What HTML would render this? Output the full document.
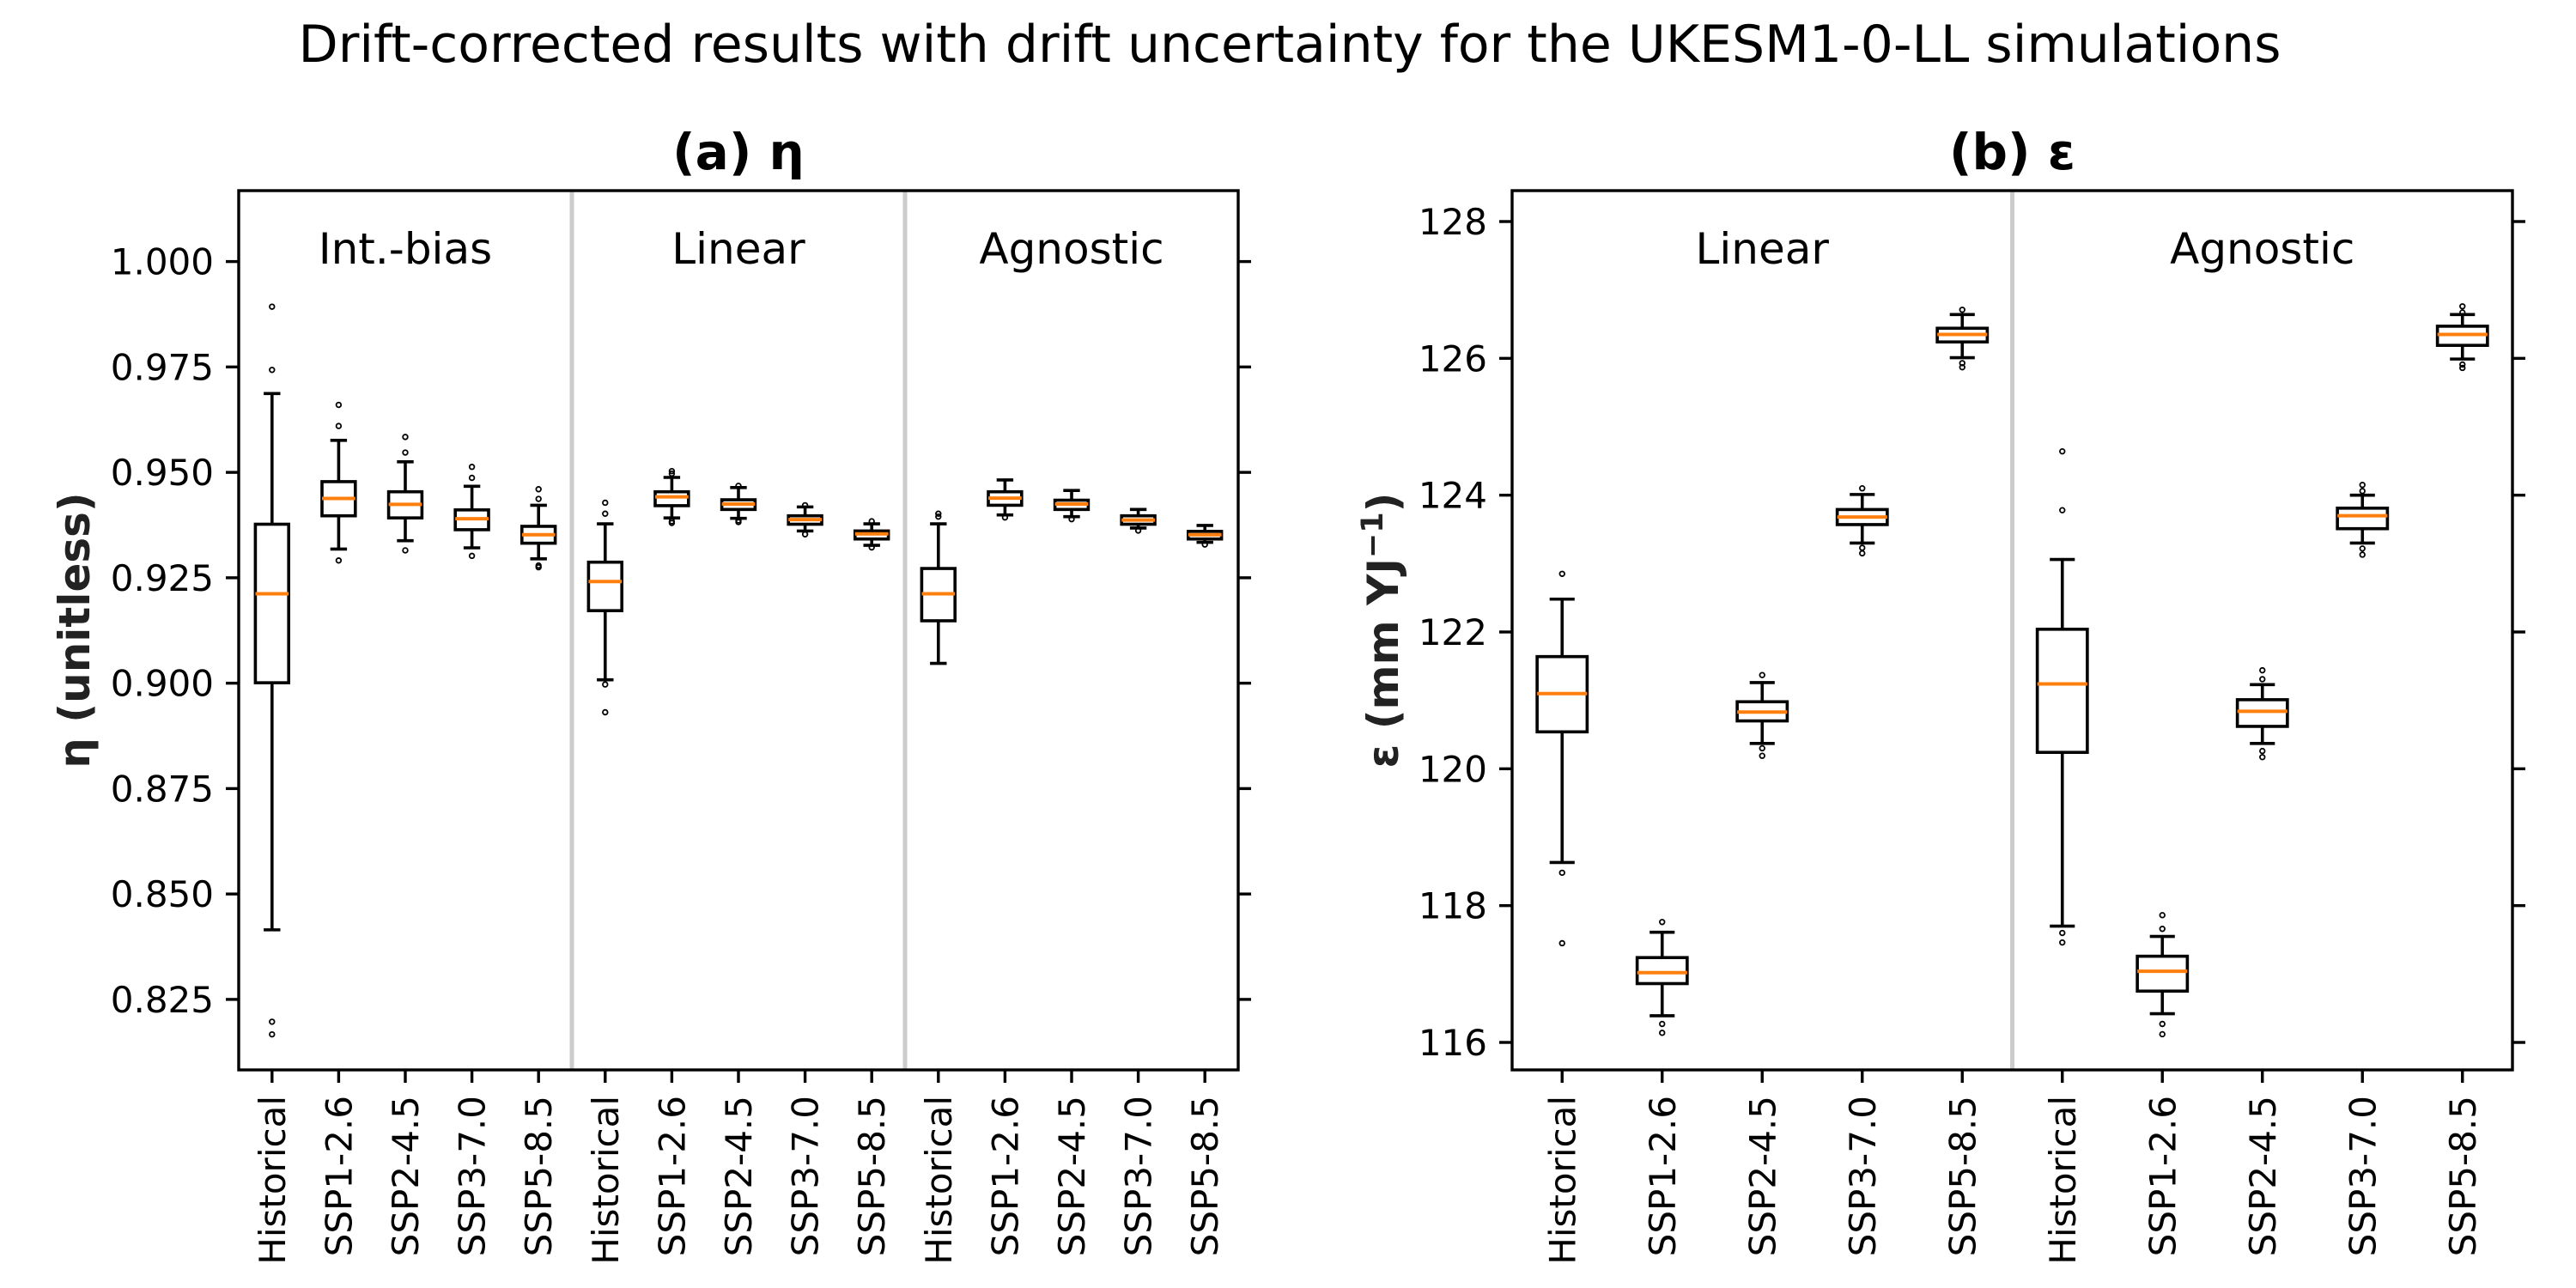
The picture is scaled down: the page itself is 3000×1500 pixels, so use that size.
<!DOCTYPE html>
<html><head><meta charset="utf-8"><style>
html,body{margin:0;padding:0;background:#fff;}
svg{display:block;font-family:"DejaVu Sans","Liberation Sans",sans-serif;}
</style></head><body>
<svg id="chart" width="3000" height="1500" viewBox="0 0 3000 1500" xmlns="http://www.w3.org/2000/svg">
<rect width="3000" height="1500" fill="#fff"/>
<text x="1502" y="72" font-size="60" text-anchor="middle">Drift-corrected results with drift uncertainty for the UKESM1-0-LL simulations</text>
<g id="panelA"></g>
<g id="panelB"></g>
</svg>
<script>
const catsA = ["Historical","SSP1-2.6","SSP2-4.5","SSP3-7.0","SSP5-8.5","Historical","SSP1-2.6","SSP2-4.5","SSP3-7.0","SSP5-8.5","Historical","SSP1-2.6","SSP2-4.5","SSP3-7.0","SSP5-8.5"];
const groupsA = ["Int.-bias","Linear","Agnostic"];
const whisLoA = [0.8415,0.9318,0.9338,0.9321,0.9295, 0.9008,0.9392,0.9391,0.9361,0.9327, 0.9047,0.9399,0.9395,0.9368,0.9334];
const q1A     = [0.9001,0.9397,0.9392,0.9364,0.9332, 0.9172,0.9421,0.9412,0.9377,0.9342, 0.9148,0.9422,0.9412,0.9377,0.9342];
const medA    = [0.9212,0.9438,0.9424,0.9390,0.9352, 0.9241,0.9442,0.9425,0.9388,0.9354, 0.9212,0.9439,0.9425,0.9387,0.9352];
const q3A     = [0.9377,0.9478,0.9454,0.9411,0.9372, 0.9287,0.9454,0.9435,0.9397,0.9361, 0.9272,0.9454,0.9434,0.9397,0.9360];
const whisHiA = [0.9687,0.9576,0.9525,0.9467,0.9422, 0.9378,0.9488,0.9464,0.9418,0.9378, 0.9378,0.9482,0.9457,0.9412,0.9374];
const fliersA = [[0.9893,0.9743,0.8197,0.8167],[0.966,0.961,0.9291],[0.9584,0.9547,0.9315],[0.9513,0.9487,0.9302],[0.946,0.9437,0.9279,0.9275],
  [0.9428,0.9402,0.8997,0.8931],[0.9503,0.9497,0.9384,0.9380],[0.9468,0.9386,0.9382],[0.9422,0.9353],[0.9384,0.9322],
  [0.9402,0.9395],[0.9393],[0.9389],[0.9362],[0.9329]];
const ticksA = [0.825,0.850,0.875,0.900,0.925,0.950,0.975,1.000];
const tickLabelsA = ["0.825","0.850","0.875","0.900","0.925","0.950","0.975","1.000"];

const catsB = ["Historical","SSP1-2.6","SSP2-4.5","SSP3-7.0","SSP5-8.5","Historical","SSP1-2.6","SSP2-4.5","SSP3-7.0","SSP5-8.5"];
const groupsB = ["Linear","Agnostic"];
const whisLoB = [118.63,116.39,120.37,123.30,126.01, 117.70,116.42,120.37,123.30,125.99];
const q1B     = [120.54,116.86,120.70,123.57,126.24, 120.24,116.75,120.62,123.51,126.19];
const medB    = [121.10,117.02,120.83,123.68,126.35, 121.24,117.04,120.84,123.70,126.35];
const q3B     = [121.64,117.24,120.98,123.79,126.44, 122.04,117.26,121.01,123.81,126.47];
const whisHiB = [122.48,117.61,121.26,124.01,126.64, 123.06,117.55,121.23,124.00,126.64];
const fliersB = [[122.85,118.48,117.45],[117.76,116.27,116.14],[121.37,120.30,120.19],[124.10,123.23,123.15],[126.71,125.93,125.87],
  [124.64,123.78,117.60,117.46],[117.86,117.66,116.27,116.12],[121.44,121.31,120.26,120.17],[124.15,124.06,123.22,123.13],[126.76,126.67,125.91,125.86]];
const ticksB = [116,118,120,122,124,126,128];
const tickLabelsB = ["116","118","120","122","124","126","128"];

const NS = "http://www.w3.org/2000/svg";
function mk(parent, tag, attrs, text){
  const e = document.createElementNS(NS, tag);
  for (const k in attrs) e.setAttribute(k, attrs[k]);
  if (text !== undefined) e.textContent = text;
  parent.appendChild(e); return e;
}

function drawPanel(g, cfg){
  const {x0,x1,y0,y1,cats,groups,lo,q1,med,q3,hi,fl,ticks,tickLabels,yv0,yp0,yv1,yp1,title,ylabel,ylabelX} = cfg;
  const n = cats.length, step = (x1-x0)/n;
  const X = i => x0 + (i+0.5)*step;
  const Y = v => yp0 + (v-yv0)*(yp1-yp0)/(yv1-yv0);
  const bw = step*0.5, cw = bw*0.5;
  const per = n/groups.length;
  for (let k=1;k<groups.length;k++){
    const dx = x0 + k*per*step;
    const d = mk(g,"line",{x1:dx,x2:dx,y1:y0,y2:y1,stroke:"#cccccc","stroke-width":5});
    
    
  }
  groups.forEach((t,k)=>{
    const gx = x0 + (k*per + per/2)*step;
    const e = mk(g,"text",{x:gx,y:y0+85,"font-size":50,"text-anchor":"middle"},t);
    
    
  });
  for (let i=0;i<n;i++){
    const bg = mk(g,"g",{});
    
    
    const cx = X(i), st = {stroke:"#000","stroke-width":3.6,fill:"none"};
    mk(bg,"line",Object.assign({x1:cx,x2:cx,y1:Y(hi[i]),y2:Y(q3[i])},st));
    mk(bg,"line",Object.assign({x1:cx,x2:cx,y1:Y(q1[i]),y2:Y(lo[i])},st));
    mk(bg,"line",Object.assign({x1:cx-cw/2,x2:cx+cw/2,y1:Y(hi[i]),y2:Y(hi[i])},st));
    mk(bg,"line",Object.assign({x1:cx-cw/2,x2:cx+cw/2,y1:Y(lo[i]),y2:Y(lo[i])},st));
    mk(bg,"rect",Object.assign({x:cx-bw/2,y:Y(q3[i]),width:bw,height:Y(q1[i])-Y(q3[i])},st));
    const m = mk(bg,"line",{x1:cx-bw/2,x2:cx+bw/2,y1:Y(med[i]),y2:Y(med[i]),stroke:"#ff7f0e","stroke-width":4});
    
    
    fl[i].forEach(v=>{
      const c = mk(bg,"circle",{cx:cx,cy:Y(v),r:2.8,fill:"none",stroke:"#000","stroke-width":1.8});
      
      
    });
  }
  const fr = mk(g,"rect",{x:x0,y:y0,width:x1-x0,height:y1-y0,fill:"none",stroke:"#000","stroke-width":3.4});
  
  
  ticks.forEach((v,k)=>{
    const y = Y(v);
    mk(g,"line",{x1:x0-15,x2:x0,y1:y,y2:y,stroke:"#000","stroke-width":3.4});
    mk(g,"line",{x1:x1,x2:x1+15,y1:y,y2:y,stroke:"#000","stroke-width":3.4});
    const t = mk(g,"text",{x:x0-29,y:y+15,"font-size":42,"text-anchor":"end"},tickLabels[k]);
    
    
  });
  cats.forEach((c,i)=>{
    const x = X(i);
    mk(g,"line",{x1:x,x2:x,y1:y1,y2:y1+15,stroke:"#000","stroke-width":3.4});
    const t = mk(g,"text",{x:0,y:0,"font-size":42,"text-anchor":"end",transform:`translate(${x+15},${y1+30}) rotate(-90)`},c);
    
    
  });
  const tt = mk(g,"text",{x:(x0+x1)/2,y:y0-25,"font-size":58,"font-weight":"bold","text-anchor":"middle"},title);
  
  
  const yl = mk(g,"text",{x:0,y:0,"font-size":50,"font-weight":"bold","text-anchor":"middle",fill:"#222",transform:`translate(${ylabelX},${(y0+y1)/2}) rotate(-90)`});
  yl.innerHTML = ylabel;
  
  
}

drawPanel(document.getElementById('panelA'),{x0:278,x1:1442,y0:222,y1:1246,cats:catsA,groups:groupsA,lo:whisLoA,q1:q1A,med:medA,q3:q3A,hi:whisHiA,fl:fliersA,ticks:ticksA,tickLabels:tickLabelsA,yv0:1.000,yp0:304.6,yv1:0.825,yp1:1163.9,title:"(a) η",ylabel:"η (unitless)",ylabelX:104});
drawPanel(document.getElementById('panelB'),{x0:1761,x1:2926,y0:222,y1:1246,cats:catsB,groups:groupsB,lo:whisLoB,q1:q1B,med:medB,q3:q3B,hi:whisHiB,fl:fliersB,ticks:ticksB,tickLabels:tickLabelsB,yv0:128,yp0:258,yv1:116,yp1:1214,title:"(b) ε",ylabel:"ε (mm YJ<tspan dy='-18' font-size='35'>−1</tspan><tspan dy='18'>)</tspan>",ylabelX:1628});
</script>
</body></html>
